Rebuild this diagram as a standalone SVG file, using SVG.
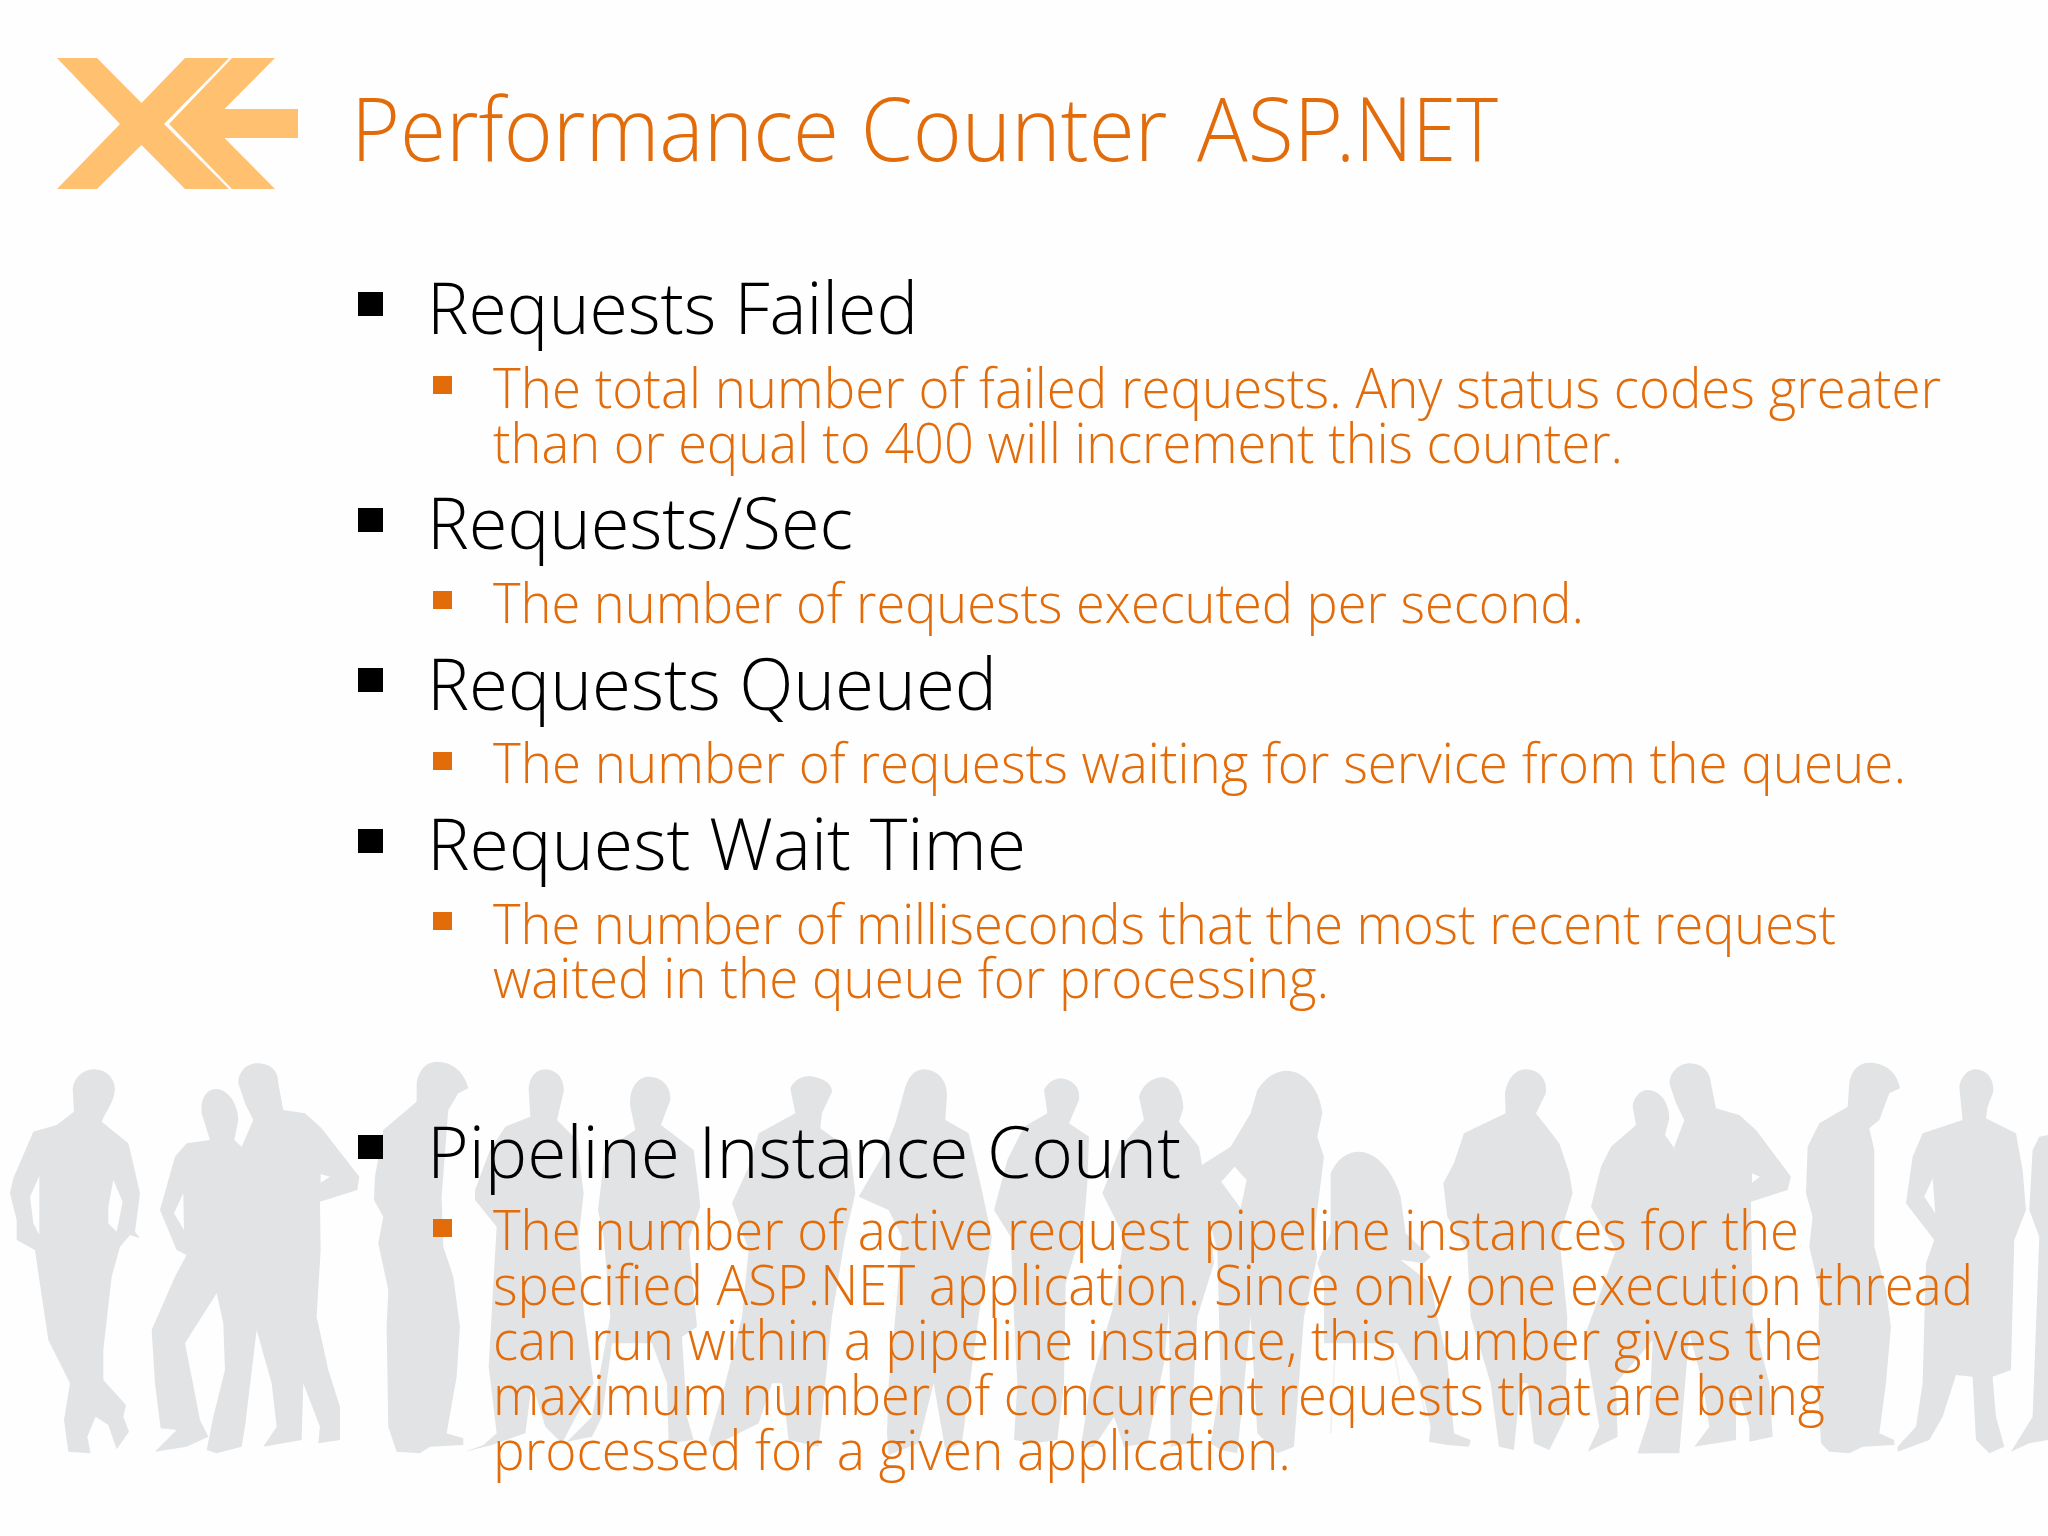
<svg xmlns="http://www.w3.org/2000/svg" width="2048" height="1536" viewBox="0 0 2048 1536">
<style>
text{font-family:"Open Sans","Noto Sans",sans-serif;font-weight:300}
.t{font-size:88px;fill:#e36c0a}
.h{font-size:72px;fill:#000}
.s{font-size:56px;fill:#e36c0a}
.bk{fill:#000}
.bo{fill:#e36c0a}
.logo{fill:#ffc170}
.p{fill:#e2e3e5;fill-rule:evenodd}
.c{fill:none;stroke:#f1f1f2;stroke-width:5}
</style>
<rect width="2048" height="1536" fill="#fefefe"/>
<g id="people">
<g transform="translate(0,1050) scale(0.3333)">
<path class="p" d="M285 58 C325 60 345 90 345 120 C340 160 320 180 305 215 L385 280 L395 320 L420 430 L405 545 L420 565 L390 555 L360 590 L335 680 L310 900 L310 990 L378 1065 L370 1100 L387 1145 L350 1198 L325 1125 L287 1100 L262 1160 L272 1210 L205 1205 L192 1110 L210 1000 L145 870 L115 670 L105 600 L50 570 L50 510 L30 430 L40 385 L100 245 L170 225 L222 185 L218 115 C225 75 255 58 285 58 Z M118 378 L118 555 L100 520 L90 440 Z M340 390 L368 455 L350 545 L325 520 L325 470 Z"/>
<path class="p" d="M650 117 C690 120 715 170 715 210 L703 270 L730 295 L760 850 L735 1130 L725 1190 L650 1210 L620 1200 L640 1100 L675 960 L670 820 L650 730 L555 880 L575 980 L600 1110 L625 1160 L560 1190 L465 1205 L530 1140 L482 1135 L465 1000 L455 840 L525 680 L560 615 L530 600 L480 480 L525 320 L560 280 L630 270 L605 190 C600 145 620 117 650 117 Z M550 430 L552 540 L522 490 Z"/>
<path class="p" d="M770 40 C810 40 835 60 835 100 L850 180 L915 190 L965 235 L1078 380 L1072 420 L960 455 L962 600 L950 800 L985 960 L1020 1070 L1020 1170 L955 1180 L960 1130 L910 1000 L905 1170 L790 1190 L830 1130 L815 1000 L770 840 L735 1130 L735 700 L725 290 L760 210 L735 160 L715 100 C715 65 740 40 770 40 Z M962 372 L990 380 L962 398 Z"/>
<path class="p" d="M1310 35 C1360 35 1395 70 1405 115 L1375 130 L1345 180 L1325 440 L1330 590 L1360 680 L1380 830 L1370 980 L1340 1150 L1390 1165 L1390 1185 L1290 1190 L1260 1210 L1190 1205 L1165 1130 L1160 830 L1165 720 L1135 580 L1150 500 L1122 450 L1125 380 L1150 240 L1250 155 L1250 100 C1255 60 1280 35 1310 35 Z"/>
</g>
<g transform="translate(512,1050) scale(0.3333)">
<path class="p" d="M100 58 C140 60 157 90 155 125 L135 210 L195 270 L215 430 L200 560 L215 780 L245 1000 L150 1180 L100 1130 L60 1000 L40 1150 L-60 1185 L-141 1205 L-86 1185 L-46 1150 L-70 950 L-56 700 L-46 530 L-111 450 L-111 420 L-66 300 L-20 230 L55 200 L50 120 C50 85 70 58 100 58 Z"/>
<path class="p" d="M410 80 C450 80 478 110 475 150 L447 225 L545 300 L560 420 L565 470 L530 570 L555 830 L510 860 L525 1100 L545 1170 L470 1180 L465 1000 L420 880 L300 880 L270 1100 L240 1160 L165 1175 L240 1100 L295 800 L275 560 L258 480 L280 300 L370 240 L355 170 C350 110 380 80 410 80 Z"/>
<path class="p" d="M895 78 C935 85 960 100 960 125 L930 190 L925 235 L1015 300 L1030 430 L1000 560 L960 800 L940 1000 L920 1190 L830 1170 L810 1000 L780 1000 L740 1120 L600 1190 L590 1170 L640 1000 L690 800 L710 600 L660 460 L715 340 L740 250 L850 190 L835 115 C845 90 870 78 895 78 Z"/>
<path class="p" d="M1235 58 C1285 60 1307 100 1305 140 L1300 210 L1370 250 L1405 400 L1440 560 L1400 800 L1350 1180 L1300 1200 L1265 1000 L1220 1180 L1130 1215 L1125 1150 L1130 1000 L1150 800 L1170 560 L1130 480 L1040 440 L1110 320 L1150 220 L1175 130 C1185 85 1205 58 1235 58 Z"/>
</g>
<g transform="translate(1024,1050) scale(0.3333)">
<path class="p" d="M110 85 C150 90 170 115 165 150 L135 220 L195 260 L190 400 L180 520 L125 700 L120 1000 L100 1170 L30 1180 L-30 1170 L-20 1000 L-30 800 L-40 560 L-90 480 L-50 330 L0 230 L70 190 L60 120 C70 100 90 85 110 85 Z"/>
<path class="p" d="M415 82 C455 85 478 130 478 175 L465 215 L525 290 L555 470 L570 640 L520 800 L500 1180 L440 1190 L435 780 L420 940 L370 1180 L300 1190 L270 1100 L210 1190 L170 1195 L200 1000 L265 780 L300 560 L235 430 L290 290 L360 210 L345 140 C355 105 385 82 415 82 Z"/>
<path class="p" d="M790 62 C850 65 890 130 895 190 L880 260 L900 320 L870 560 L880 620 L840 800 L810 1190 L760 1210 L700 1150 L680 800 L660 1010 L640 1210 L590 1200 L560 1180 L590 1000 L580 600 L525 400 L525 350 L620 290 L680 190 L700 120 C730 75 760 62 790 62 Z M632 350 L668 390 L650 475 L592 395 Z"/>
<path class="c" d="M935 880 L920 1150 M1105 880 L1130 1010 M1170 920 L1205 1100"/>
<path class="p" d="M1005 305 C1060 305 1110 370 1130 440 L1145 550 L1220 620 L1200 640 L1130 630 L1220 700 L1240 800 L1270 930 L1290 1150 L1340 1170 L1335 1190 L1270 1185 L1215 1175 L1220 1130 L1190 1000 L1120 880 L900 880 L900 700 L880 640 L920 550 L920 370 C940 325 970 305 1005 305 Z"/>
<path class="p" d="M1505 58 C1550 60 1570 90 1566 130 L1536 190 L1606 280 L1636 370 L1646 430 L1606 560 L1630 800 L1625 1100 L1611 1130 L1576 1200 L1530 1180 L1510 1000 L1490 1000 L1470 1200 L1425 1190 L1400 1000 L1340 800 L1330 600 L1270 500 L1258 400 L1290 340 L1320 250 L1445 190 L1443 130 C1450 85 1475 58 1505 58 Z"/>
</g>
<g transform="translate(1536,1050) scale(0.3333)">
<path class="p" d="M335 120 C375 122 400 160 400 205 L387 255 L415 295 L430 700 L405 1170 L415 1185 L340 1210 L305 1210 L340 1100 L350 870 L240 1000 L245 1160 L155 1205 L190 1130 L145 860 L240 600 L165 470 L195 350 L225 290 L300 225 L290 170 C292 145 310 120 335 120 Z"/>
<path class="p" d="M460 40 C500 40 522 65 525 100 L540 175 L610 195 L660 240 L765 380 L755 420 L645 455 L650 800 L700 1000 L710 1160 L640 1175 L640 1130 L600 1000 L600 1170 L475 1190 L520 1130 L500 1000 L460 850 L430 1210 L305 1210 L380 1000 L405 700 L415 290 L445 210 L420 160 L400 100 C402 65 430 40 460 40 Z M648 370 L672 380 L648 398 Z"/>
<path class="p" d="M1000 38 C1050 38 1085 70 1092 115 L1060 130 L1030 210 L1000 235 L1015 300 L1015 590 L1050 720 L1065 830 L1050 1000 L1030 1150 L1075 1170 L1075 1185 L980 1190 L940 1210 L880 1205 L855 1180 L845 1000 L850 720 L820 590 L830 500 L810 430 L815 290 L850 220 L935 170 L940 100 C945 60 970 38 1000 38 Z"/>
<path class="p" d="M1320 58 C1355 60 1375 90 1372 125 L1355 170 L1350 205 L1440 250 L1460 360 L1470 480 L1435 570 L1425 960 L1370 980 L1380 1100 L1405 1190 L1360 1210 L1320 1170 L1310 980 L1260 975 L1220 1100 L1180 1170 L1085 1205 L1085 1190 L1140 1130 L1160 1000 L1170 640 L1195 570 L1110 460 L1130 320 L1160 250 L1280 210 L1270 110 C1275 80 1295 58 1320 58 Z M1190 385 L1198 490 L1165 440 Z"/>
<path class="p" d="M1536 255 L1510 260 L1490 300 L1480 480 L1510 560 L1490 1100 L1425 1205 L1480 1180 L1536 1170 Z"/>
</g>
</g>
<g id="logo">
<polygon class="logo" points="57,58 97,58 141.500,103 185,58 229,58 164,124 229,189 185,189 141.500,145 97,189 57,189 120,124"/>
<polygon class="logo" points="232,58 275,58 224.500,109 298,109 298,138 224.500,138 275,189 232,189 169,124"/>
</g>
<text id="title" class="t" x="351" y="161"><tspan textLength="838" lengthAdjust="spacingAndGlyphs">Performance Counter </tspan><tspan x="1197" textLength="146" lengthAdjust="spacingAndGlyphs">ASP</tspan><tspan x="1336" textLength="162" lengthAdjust="spacingAndGlyphs">.NET</tspan></text>
<g id="bullets">
<rect class="bk" x="358" y="292" width="25" height="24"/><rect class="bo" x="433" y="376" width="19" height="18"/>
<rect class="bk" x="358" y="508" width="25" height="24"/><rect class="bo" x="433" y="591" width="19" height="18"/>
<rect class="bk" x="358" y="668" width="25" height="24"/><rect class="bo" x="433" y="752" width="19" height="18"/>
<rect class="bk" x="358" y="829" width="25" height="24"/><rect class="bo" x="433" y="912" width="19" height="18"/>
<rect class="bk" x="358" y="1135" width="25" height="24"/><rect class="bo" x="433" y="1219" width="19" height="18"/>
</g>
<g id="items">
<text class="h" x="427" y="334" textLength="491" lengthAdjust="spacingAndGlyphs">Requests Failed</text>
<text class="s" x="493" y="408" textLength="1448" lengthAdjust="spacingAndGlyphs">The total number of failed requests. Any status codes greater</text>
<text class="s" x="493" y="463" textLength="1130" lengthAdjust="spacingAndGlyphs">than or equal to 400 will increment this counter.</text>
<text class="h" x="427" y="549" textLength="426" lengthAdjust="spacingAndGlyphs">Requests/Sec</text>
<text class="s" x="493" y="623" textLength="1091" lengthAdjust="spacingAndGlyphs">The number of requests executed per second.</text>
<text class="h" x="427" y="710" textLength="570" lengthAdjust="spacingAndGlyphs">Requests Queued</text>
<text class="s" x="493" y="783" textLength="1413" lengthAdjust="spacingAndGlyphs">The number of requests waiting for service from the queue.</text>
<text class="h" x="427" y="870" textLength="599" lengthAdjust="spacingAndGlyphs">Request Wait Time</text>
<text class="s" x="493" y="944" textLength="1343" lengthAdjust="spacingAndGlyphs">The number of milliseconds that the most recent request</text>
<text class="s" x="493" y="998" textLength="836" lengthAdjust="spacingAndGlyphs">waited in the queue for processing.</text>
<text class="h" x="427" y="1178" textLength="754" lengthAdjust="spacingAndGlyphs">Pipeline Instance Count</text>
<text class="s" x="493" y="1250" textLength="1306" lengthAdjust="spacingAndGlyphs">The number of active request pipeline instances for the</text>
<text class="s" x="493" y="1305" textLength="1480" lengthAdjust="spacingAndGlyphs">specified ASP.NET application. Since only one execution thread</text>
<text class="s" x="493" y="1360" textLength="1330" lengthAdjust="spacingAndGlyphs">can run within a pipeline instance, this number gives the</text>
<text class="s" x="493" y="1415" textLength="1332" lengthAdjust="spacingAndGlyphs">maximum number of concurrent requests that are being</text>
<text class="s" x="493" y="1470" textLength="798" lengthAdjust="spacingAndGlyphs">processed for a given application.</text>
</g>
</svg>
